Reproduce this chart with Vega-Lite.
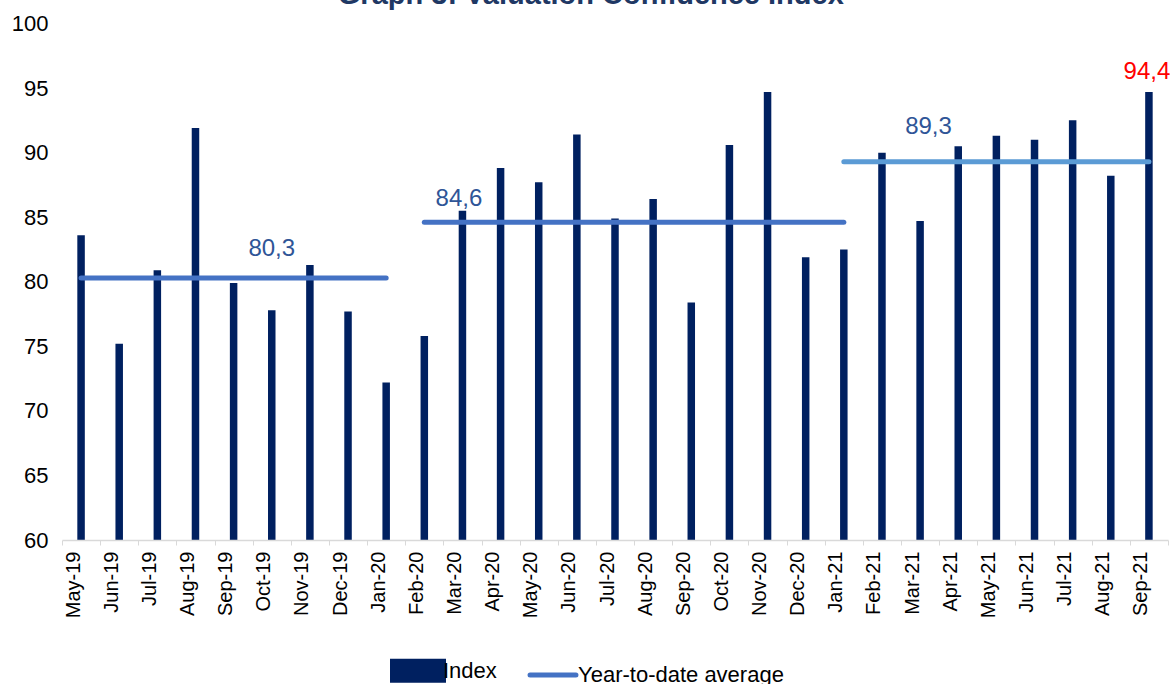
{
  "$schema": "https://vega.github.io/schema/vega-lite/v6.json",
  "width": 1106,
  "height": 516.5,
  "autosize": {"type": "none"},
  "padding": {"left": 62, "top": 23.5, "right": 8, "bottom": 144},
  "background": "white",
  "title": {
    "text": "Graph 3: Valuation Confidence Index",
    "font": "Liberation Sans",
    "fontSize": 29,
    "fontWeight": "bold",
    "color": "#1F3864",
    "anchor": "middle",
    "frame": "bounds",
    "baseline": "alphabetic",
    "offset": 0,
    "dy": 20
  },
  "config": {
    "view": {"stroke": null},
    "font": "Liberation Sans"
  },
  "datasets": {
    "index": [
      {"month": "May-19", "value": 83.6},
      {"month": "Jun-19", "value": 75.2},
      {"month": "Jul-19", "value": 80.9},
      {"month": "Aug-19", "value": 91.9},
      {"month": "Sep-19", "value": 79.9},
      {"month": "Oct-19", "value": 77.8},
      {"month": "Nov-19", "value": 81.3},
      {"month": "Dec-19", "value": 77.7},
      {"month": "Jan-20", "value": 72.2},
      {"month": "Feb-20", "value": 75.8},
      {"month": "Mar-20", "value": 85.5},
      {"month": "Apr-20", "value": 88.8},
      {"month": "May-20", "value": 87.7},
      {"month": "Jun-20", "value": 91.4},
      {"month": "Jul-20", "value": 84.9},
      {"month": "Aug-20", "value": 86.4},
      {"month": "Sep-20", "value": 78.4},
      {"month": "Oct-20", "value": 90.6},
      {"month": "Nov-20", "value": 94.7},
      {"month": "Dec-20", "value": 81.9},
      {"month": "Jan-21", "value": 82.5},
      {"month": "Feb-21", "value": 90.0},
      {"month": "Mar-21", "value": 84.7},
      {"month": "Apr-21", "value": 90.5},
      {"month": "May-21", "value": 91.3},
      {"month": "Jun-21", "value": 91.0},
      {"month": "Jul-21", "value": 92.5},
      {"month": "Aug-21", "value": 88.2},
      {"month": "Sep-21", "value": 94.7}
    ],
    "ytd": [
      {"month": "May-19", "avg": 80.3, "segment": "2019"},
      {"month": "Jan-20", "avg": 80.3, "segment": "2019"},
      {"month": "Feb-20", "avg": 84.6, "segment": "2020"},
      {"month": "Jan-21", "avg": 84.6, "segment": "2020"}
    ],
    "ytd2021": [
      {"month": "Jan-21", "avg": 89.3, "segment": "2021"},
      {"month": "Sep-21", "avg": 89.3, "segment": "2021"}
    ],
    "labels": [
      {"month": "Oct-19", "value": 80.3, "label": "80,3", "kind": "a"},
      {"month": "Mar-20", "value": 84.6, "label": "84,6", "kind": "b"},
      {"month": "Mar-21", "value": 89.3, "label": "89,3", "kind": "c"},
      {"month": "Sep-21", "value": 94.4, "label": "94,4", "kind": "d"}
    ]
  },
  "encoding": {
    "x": {
      "field": "month",
      "type": "ordinal",
      "scale": {
        "domain": ["May-19","Jun-19","Jul-19","Aug-19","Sep-19","Oct-19","Nov-19","Dec-19","Jan-20","Feb-20","Mar-20","Apr-20","May-20","Jun-20","Jul-20","Aug-20","Sep-20","Oct-20","Nov-20","Dec-20","Jan-21","Feb-21","Mar-21","Apr-21","May-21","Jun-21","Jul-21","Aug-21","Sep-21"],
        "paddingInner": 0,
        "paddingOuter": 0
      },
      "axis": {
        "title": null,
        "labelAngle": 270,
        "labelFont": "Liberation Sans",
        "labelFontSize": 20,
        "labelColor": "#000000",
        "labelPadding": 6,
        "labelOffset": -8,
        "tickBand": "extent",
        "ticks": true,
        "tickSize": 5,
        "tickColor": "#D9D9D9",
        "domainColor": "#D9D9D9",
        "domainWidth": 1.5,
        "grid": false,
        "zindex": 1
      }
    }
  },
  "layer": [
    {
      "data": {"name": "index"},
      "mark": {"type": "bar", "size": 7.5},
      "encoding": {
        "y": {
          "field": "value",
          "type": "quantitative",
          "scale": {"domain": [60, 100], "nice": false, "zero": false},
          "axis": {
            "title": null,
            "values": [60, 65, 70, 75, 80, 85, 90, 95, 100],
            "labelFont": "Liberation Sans",
            "labelFontSize": 22,
            "labelColor": "#000000",
            "labelPadding": 14,
            "domain": false,
            "ticks": false,
            "grid": false
          }
        },
        "y2": {"datum": 60},
        "color": {
          "datum": "Index",
          "type": "nominal",
          "scale": {"domain": ["Index", "Year-to-date average"], "range": ["#002060", "#4472C4"]},
          "legend": {
            "title": null,
            "orient": "none",
            "legendX": 328,
            "legendY": 619,
            "direction": "horizontal",
            "labelFont": "Liberation Sans",
            "labelFontSize": 22,
            "labelColor": "#000000",
            "labelLimit": 0,
            "labelOffset": -3,
            "labelBaseline": "middle",
            "columnPadding": 23,
            "symbolSize": 2601,
            "encode": {
              "symbols": {
                "update": {
                  "shape": {"signal": "datum.value == 'Index' ? 'M-1,-0.37H1V0.37H-1Z' : 'M-0.9,0H0.9'"},
                  "fill": {"signal": "datum.value == 'Index' ? '#002060' : 'transparent'"},
                  "stroke": {"signal": "datum.value == 'Index' ? 'transparent' : '#4472C4'"},
                  "strokeWidth": {"value": 5},
                  "strokeCap": {"value": "round"},
                  "opacity": {"value": 1},
                  "fillOpacity": {"value": 1}
                }
              }
            }
          }
        }
      }
    },
    {
      "data": {"name": "ytd"},
      "mark": {"type": "line", "strokeWidth": 5, "strokeCap": "round"},
      "encoding": {
        "y": {"field": "avg", "type": "quantitative"},
        "detail": {"field": "segment", "type": "nominal"},
        "color": {"datum": "Year-to-date average", "type": "nominal"}
      }
    },
    {
      "data": {"name": "ytd2021"},
      "mark": {"type": "line", "strokeWidth": 5, "strokeCap": "round", "color": "#5B9BD5"},
      "encoding": {
        "y": {"field": "avg", "type": "quantitative"},
        "detail": {"field": "segment", "type": "nominal"}
      }
    },
    {
      "data": {"name": "labels"},
      "transform": [{"filter": "datum.kind == 'a'"}],
      "mark": {"type": "text", "font": "Liberation Sans", "fontSize": 24, "color": "#2F5597", "baseline": "alphabetic", "dy": -22},
      "encoding": {"y": {"field": "value", "type": "quantitative"}, "text": {"field": "label"}}
    },
    {
      "data": {"name": "labels"},
      "transform": [{"filter": "datum.kind == 'b'"}],
      "mark": {"type": "text", "font": "Liberation Sans", "fontSize": 24, "color": "#2F5597", "baseline": "alphabetic", "dy": -16.7, "dx": -3.5},
      "encoding": {"y": {"field": "value", "type": "quantitative"}, "text": {"field": "label"}}
    },
    {
      "data": {"name": "labels"},
      "transform": [{"filter": "datum.kind == 'c'"}],
      "mark": {"type": "text", "font": "Liberation Sans", "fontSize": 24, "color": "#2F5597", "baseline": "alphabetic", "dy": -27.7, "dx": 8.4},
      "encoding": {"y": {"field": "value", "type": "quantitative"}, "text": {"field": "label"}}
    },
    {
      "data": {"name": "labels"},
      "transform": [{"filter": "datum.kind == 'd'"}],
      "mark": {"type": "text", "font": "Liberation Sans", "fontSize": 24, "color": "#FF0000", "baseline": "alphabetic", "dy": -16.8, "dx": -2},
      "encoding": {"y": {"field": "value", "type": "quantitative"}, "text": {"field": "label"}}
    }
  ]
}
